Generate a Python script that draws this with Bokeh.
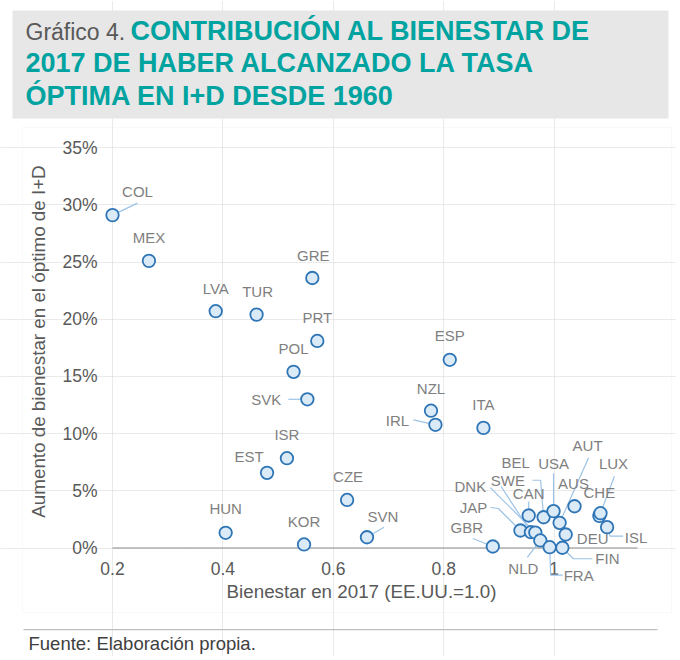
from bokeh.plotting import figure
from bokeh.models import ColumnDataSource, Label, BoxAnnotation, FixedTicker, Range1d
from bokeh.core.properties import value
from bokeh.embed import file_html
from bokeh.resources import INLINE

# ---------------- data ----------------
countries = ["COL", "MEX", "LVA", "TUR", "GRE", "PRT", "POL", "SVK", "ISR", "EST",
             "HUN", "KOR", "CZE", "SVN", "ESP", "NZL", "IRL", "ITA", "GBR", "JAP",
             "CAN", "SWE", "DNK", "NLD", "BEL", "FRA", "USA", "AUT", "FIN", "DEU",
             "AUS", "CHE", "LUX", "ISL"]
welfare_2017 = [0.200, 0.266, 0.387, 0.461, 0.562, 0.571, 0.528, 0.553, 0.516, 0.480,
                0.405, 0.547, 0.625, 0.661, 0.811, 0.777, 0.785, 0.872, 0.889, 0.939,
                0.954, 0.958, 0.966, 0.975, 0.981, 0.992, 0.999, 1.010, 1.015, 1.021,
                1.037, 1.082, 1.084, 1.096]
welfare_gain = [0.291, 0.251, 0.207, 0.204, 0.236, 0.181, 0.154, 0.130, 0.0785, 0.0657,
                0.0133, 0.0031, 0.042, 0.0094, 0.1645, 0.120, 0.1077, 0.105, 0.0013, 0.0153,
                0.0284, 0.0138, 0.0135, 0.0066, 0.0269, 0.0007, 0.0322, 0.022, 0.0002, 0.0118,
                0.0365, 0.0281, 0.0304, 0.0182]
x_ticks = [0.2, 0.4, 0.6, 0.8, 1.0]
x_tick_labels = ["0.2", "0.4", "0.6", "0.8", "1"]
y_ticks = [0.0, 0.05, 0.10, 0.15, 0.20, 0.25, 0.30, 0.35]
y_tick_labels = ["0%", "5%", "10%", "15%", "20%", "25%", "30%", "35%"]

title_prefix = "Gráfico 4."
title_lines = ["CONTRIBUCIÓN AL BIENESTAR DE",
               "2017 DE HABER ALCANZADO LA TASA",
               "ÓPTIMA EN I+D DESDE 1960"]
x_title = "Bienestar en 2017 (EE.UU.=1.0)"
y_title = "Aumento de bienestar en el óptimo de I+D"
source_note = "Fuente: Elaboración propia."

# ---------------- label placement (pixel offsets, dx right / dy up) ----------------
label_offsets = {
    "COL": (25, 24), "MEX": (0, 23), "LVA": (0, 23), "TUR": (1, 23), "GRE": (1, 23),
    "PRT": (0, 23), "POL": (0, 23), "SVK": (-41, 0), "ISR": (0, 23.5), "EST": (-18, 16),
    "HUN": (0, 24), "KOR": (0, 22.5), "CZE": (1, 23), "SVN": (16, 21), "ESP": (0, 24),
    "NZL": (0, 22), "IRL": (-38, 4), "ITA": (0, 23), "GBR": (-26, 19), "JAP": (-47, 23),
    "CAN": (0, 22), "SWE": (-23, 52), "DNK": (-65, 46), "NLD": (-17, -28), "BEL": (-28, 55),
    "FRA": (29, -28), "USA": (0, 48), "AUT": (28, 77), "FIN": (45, -11), "DEU": (27, -4),
    "AUS": (-1, 23), "CHE": (0, 23), "LUX": (13, 50), "ISL": (29, -10),
}
leader_paths = {
    "COL": [(0, 0), (25, 12)],
    "SVK": [(0, 0), (-19, 0)],
    "SVN": [(0, 0), (17, 10)],
    "IRL": [(0, 0), (-22, 5)],
    "GBR": [(0, 0), (-20, 8)],
    "JAP": [(0, 0), (-22, 22), (-30, 23)],
    "SWE": [(0, 0), (-30, 46)],
    "DNK": [(0, 0), (-45, 45)],
    "CAN": [(0, 0), (0, 14)],
    "BEL": [(0, 0), (-3, 37), (-11, 37)],
    "USA": [(0, 0), (0, 38)],
    "AUT": [(0, 0), (29, 65)],
    "LUX": [(0, 0), (14, 37)],
    "ISL": [(0, 0), (3, -9), (16, -9)],
    "FIN": [(0, 0), (11, -11), (30, -11)],
    "FRA": [(0, 0), (1, -28), (13, -28)],
    "NLD": [(0, 0), (-13, -17)],
}

# ---------------- layout ----------------
W, H = 676, 656              # canvas; the frame covers all of it
ORIGIN_X, ORIGIN_Y = 112, 547.5   # page pixel of (0.2, 0%)
PX_X = 552.0                 # pixels per unit of welfare
PX_Y = 1144.0                # pixels per unit of gain
X_START = 0.2 - ORIGIN_X / PX_X
X_END = X_START + W / PX_X
Y_START = -(H - ORIGIN_Y) / PX_Y
Y_END = Y_START + H / PX_Y
AXIS_X_END = 0.2 + 525 / PX_X   # right end of the plotted area
AXIS_Y_END = y_ticks[-1]

FONT = "Liberation Sans"
GREY = "#595959"
TEAL = "#00a3a0"


def sx(X):  # page pixel -> screen x
    return X


def sy(Y):  # page pixel -> screen y (up)
    return H - Y


p = figure(width=W, height=H, output_backend="svg", toolbar_location=None,
           x_range=Range1d(X_START, X_END), y_range=Range1d(Y_START, Y_END),
           x_axis_location=None, y_axis_location=None,
           min_border=0)
p.outline_line_color = None
p.background_fill_color = "white"
p.border_fill_color = "white"


def box(l, r, t, b, **kw):
    p.add_layout(BoxAnnotation(left=sx(l), right=sx(r), top=sy(t), bottom=sy(b),
                               left_units="screen", right_units="screen",
                               top_units="screen", bottom_units="screen", **kw))


# chart border, title box and source rule
box(22, 671, 127, 612, fill_color=None, line_color="#ebebeb", line_width=1, level="underlay")
box(12, 668, 10, 118, fill_color="#e7e7e7", fill_alpha=1, line_color=None, level="underlay")
box(23, 657, 628.5, 629.8, fill_color="#bfbfbf", fill_alpha=1, line_color=None)

# grid
p.xgrid.ticker = FixedTicker(ticks=x_ticks)
p.ygrid.ticker = FixedTicker(ticks=y_ticks)
p.xgrid.bounds = (0.0, AXIS_Y_END)
p.ygrid.bounds = (x_ticks[0], AXIS_X_END)
for g in (p.xgrid, p.ygrid):
    g.grid_line_color = "#d4d4d4"
    g.grid_line_dash = "1 1"
    g.grid_line_width = 1

# horizontal axis line at 0
p.segment(x0=[x_ticks[0]], y0=[0.0], x1=[AXIS_X_END], y1=[0.0],
          line_color="#8c8c8c", line_width=1.2)

# tick labels
p.text(x=x_ticks, y=[0.0] * len(x_ticks), text=x_tick_labels, y_offset=20.5,
       text_font=value(FONT), text_font_size="17.5px", text_color=GREY,
       text_align="center", text_baseline="middle")
p.text(x=[x_ticks[0]] * len(y_ticks), y=y_ticks, text=y_tick_labels, x_offset=-15,
       text_font=value(FONT), text_font_size="17.5px", text_color=GREY,
       text_align="right", text_baseline="middle")

# leader lines
xs, ys = [], []
for c, xv, yv in zip(countries, welfare_2017, welfare_gain):
    if c in leader_paths:
        xs.append([xv + dx / PX_X for dx, dy in leader_paths[c]])
        ys.append([yv + dy / PX_Y for dx, dy in leader_paths[c]])
p.multi_line(xs, ys, line_color="#9dc3e6", line_width=1.2)

# points and their labels
src = ColumnDataSource(dict(
    x=welfare_2017, y=welfare_gain, name=countries,
    dx=[label_offsets[c][0] for c in countries],
    dy=[-label_offsets[c][1] for c in countries],
))
p.scatter("x", "y", source=src, size=12.5, fill_color="#dbeaf7",
          line_color="#2e75b6", line_width=1.8)
p.text("x", "y", text="name", source=src, x_offset="dx", y_offset="dy",
       text_font=value(FONT), text_font_size="15px", text_color="#7f7f7f",
       text_align="center", text_baseline="middle")


def add_label(text, X, Y, size, color, style="normal", align="left", angle=0.0):
    p.add_layout(Label(x=sx(X), y=sy(Y), x_units="screen", y_units="screen",
                       text=text, text_font=FONT, text_font_size=size,
                       text_color=color, text_font_style=style,
                       text_align=align, text_baseline="middle", angle=angle))


add_label(title_prefix, 25, 31.4, "23px", GREY)
add_label(title_lines[0], 130, 30, "27px", TEAL, style="bold")
add_label(title_lines[1], 25, 62.5, "27px", TEAL, style="bold")
add_label(title_lines[2], 25, 95, "27px", TEAL, style="bold")
add_label(x_title, 361, 591, "18.8px", GREY, align="center")
add_label(y_title, 38, 341, "18.8px", GREY, align="center", angle=1.5707963)
add_label(source_note, 28, 643, "18.5px", "#404040")

open("out.html", "w").write(file_html(p, INLINE))
